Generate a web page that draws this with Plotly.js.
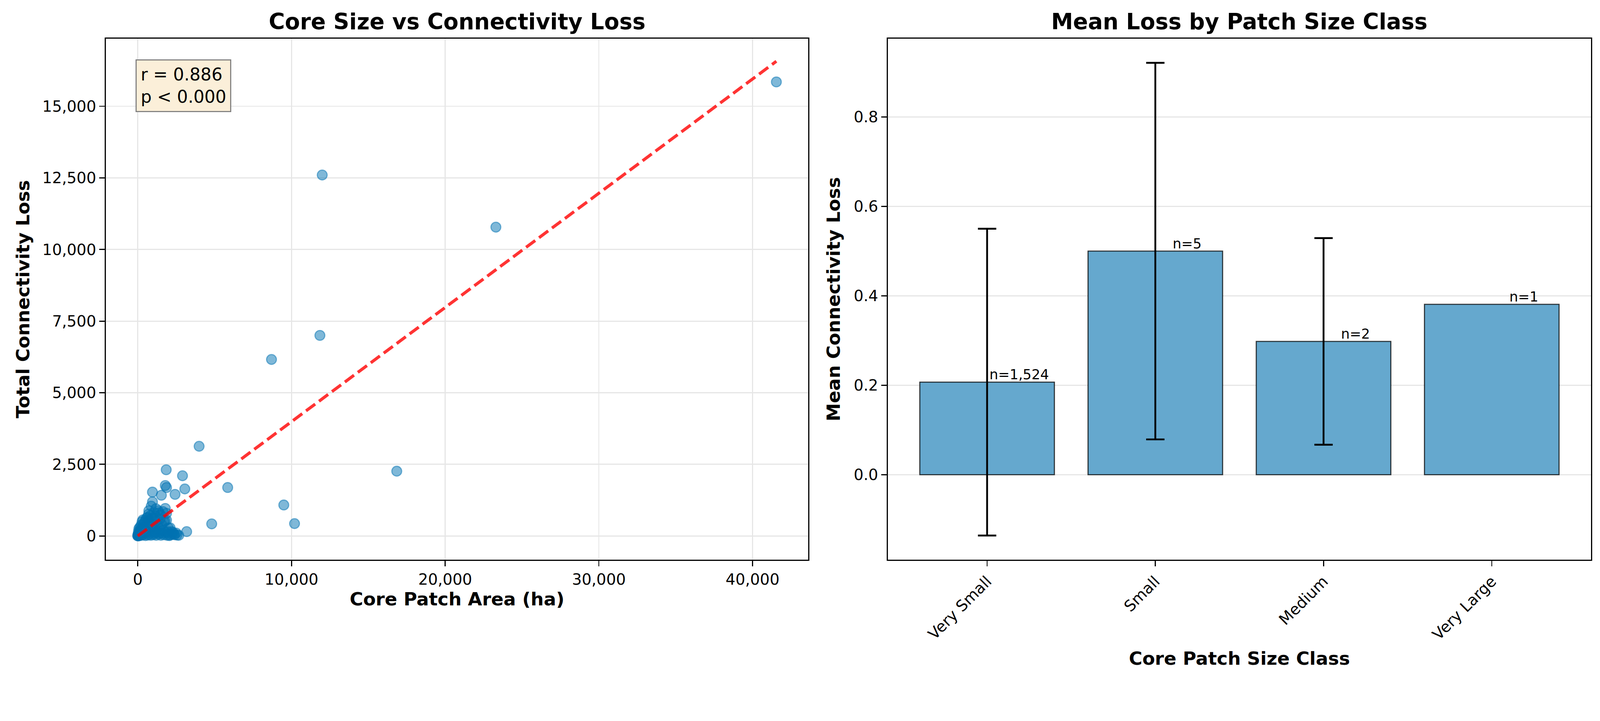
<!DOCTYPE html>
<html>
<head>
<meta charset="utf-8">
<script src="https://cdn.plot.ly/plotly-3.0.1.min.js"></script>
<style>html,body{margin:0;padding:0;background:#fff;overflow:hidden;}</style>
</head>
<body>
<div id="chart"></div>
<script>
// ---------- Data: scatter (core patch area vs total connectivity loss) ----------
const coreArea = [
  41550, 23300, 12000, 11850, 8700, 16850, 10200, 9500, 5850, 4810,
  3990, 3180, 3060, 2910, 1850, 1790, 1870, 2425, 1535, 955,
  955, 875, 1790, 1630, 1870, 1390, 1150, 1870, 1710, 1550,
  2107, 2664, 2346, 1313, 1988, 2227, 1767, 180, 500, 820,
  650, 720, 600, 420, 350, 300, 260, 540, 760, 880,
  1000, 1100, 1200, 1250, 1400, 1450, 1300, 700, 900, 1050,
  400, 200, 100, 50, 0, 20, 30, 80, 120, 150,
  250, 300, 350, 450, 500, 550, 600, 650, 750, 800,
  850, 950, 1000, 1150, 1200, 1350, 1500, 1600, 1700, 1800,
  1900, 2000, 2100, 2200, 2400, 2500, 560, 460, 380, 700,
  1050, 1180, 40, 60, 10, 5, 15, 70, 130, 220,
  280, 330, 90, 160, 240, 320, 480, 620, 680, 780,
  920, 1080, 1330, 1420, 1650, 1950, 2050, 2300, 2550, 1480
];
const connLoss = [
  15850, 10780, 12600, 7000, 6160, 2260, 430, 1080, 1690, 420,
  3130, 150, 1640, 2100, 2310, 1760, 1690, 1450, 1420, 1530,
  1190, 1040, 960, 850, 790, 810, 700, 550, 490, 400,
  280, 20, 60, 190, 280, 60, 530, 240, 540, 710,
  650, 880, 420, 460, 380, 300, 200, 300, 500, 600,
  420, 300, 520, 150, 100, 600, 350, 200, 150, 80,
  100, 50, 120, 30, 0, 10, 60, 5, 40, 180,
  20, 120, 40, 220, 10, 80, 150, 30, 60, 300,
  20, 250, 40, 120, 20, 60, 20, 90, 40, 130,
  20, 80, 30, 150, 40, 100, 620, 330, 250, 760,
  820, 950, 150, 80, 40, 5, 20, 250, 300, 380,
  500, 560, 10, 90, 130, 200, 150, 280, 500, 400,
  350, 600, 880, 250, 200, 150, 10, 120, 30, 740
];
// Fitted trend line (endpoints)
const trendX = [0, 41550];
const trendY = [0, 16570];
const statText = ["r = 0.886", "p &lt; 0.000"];

// ---------- Data: bar chart (mean loss by patch size class) ----------
const sizeClasses = ["Very Small", "Small", "Medium", "Very Large"];
const meanLoss   = [0.207, 0.500, 0.298, 0.381];
const stdLoss    = [0.343, 0.421, 0.231, null];
const classCount = ["n=1,524", "n=5", "n=2", "n=1"];

// ---------- Scale to the actual viewport ----------
const W0 = 4365, H0 = 1846;
const S = Math.min(window.innerWidth / W0, window.innerHeight / H0);
const p = v => v * S;
document.getElementById("chart").style.width = (W0 * S) + "px";
document.getElementById("chart").style.height = (H0 * S) + "px";

// ---------- Styling ----------
const FONT = "DejaVu Sans";
const gridCol = "#e6e6e6";
const barColor = "#65a8ce";
const barEdge = "rgba(0,0,0,0.75)";
const axBase = {
  showline: true, mirror: true, linecolor: "#000", linewidth: p(3),
  ticks: "outside", ticklen: p(15), tickwidth: p(3), tickcolor: "#000",
  tickfont: {family: FONT, size: p(42), color: "#000"},
  zeroline: false, automargin: false
};
const titleFont = {family: FONT, size: p(50), color: "#000", weight: "bold"};

// split bars into those with and without a std (n=1 has no error bar)
const withErr = sizeClasses.map((c, i) => i).filter(i => stdLoss[i] !== null);
const noErr = sizeClasses.map((c, i) => i).filter(i => stdLoss[i] === null);

const traces = [
  {
    type: "scatter", mode: "markers", x: coreArea, y: connLoss,
    xaxis: "x", yaxis: "y",
    marker: {size: p(27), color: "rgba(0,114,178,0.5)", line: {color: "rgba(0,114,178,0.5)", width: p(3)}},
    hoverinfo: "skip", showlegend: false
  },
  {
    type: "scatter", mode: "lines", x: trendX, y: trendY,
    xaxis: "x", yaxis: "y",
    line: {color: "rgba(255,0,0,0.8)", width: p(8.3), dash: p(31) + "px," + p(13) + "px"},
    hoverinfo: "skip", showlegend: false
  },
  {
    type: "bar", x: withErr.map(i => sizeClasses[i]), y: withErr.map(i => meanLoss[i]),
    xaxis: "x2", yaxis: "y2", width: 0.8,
    marker: {color: barColor, line: {color: barEdge, width: p(3)}},
    error_y: {type: "data", array: withErr.map(i => stdLoss[i]), visible: true, color: "#000", thickness: p(5), width: p(25)},
    hoverinfo: "skip", showlegend: false
  },
  {
    type: "bar", x: noErr.map(i => sizeClasses[i]), y: noErr.map(i => meanLoss[i]),
    xaxis: "x2", yaxis: "y2", width: 0.8,
    marker: {color: barColor, line: {color: barEdge, width: p(3)}},
    hoverinfo: "skip", showlegend: false
  }
];

const annotations = [
  {xref: "x domain", yref: "y domain", x: 0.5, y: 1, xanchor: "center", yanchor: "bottom", yshift: p(10),
   showarrow: false, text: "Core Size vs Connectivity Loss",
   font: {family: FONT, size: p(60), color: "#000", weight: "bold"}},
  {xref: "x2 domain", yref: "y2 domain", x: 0.5, y: 1, xanchor: "center", yanchor: "bottom", yshift: p(10),
   showarrow: false, text: "Mean Loss by Patch Size Class",
   font: {family: FONT, size: p(60), color: "#000", weight: "bold"}},
  {xref: "x domain", yref: "y domain", x: 0.0423, y: 0.9606, xanchor: "left", yanchor: "top",
   showarrow: false, align: "left", text: statText.join("<br>"),
   font: {family: FONT, size: p(47), color: "#000"},
   bgcolor: "#fbefd9", bordercolor: "#7f7f7f", borderwidth: p(3), borderpad: p(11)}
];
const labelOffset = 0.19;
sizeClasses.forEach((c, i) => {
  annotations.push({
    xref: "x2", yref: "y2", x: i + labelOffset, y: meanLoss[i], xanchor: "center", yanchor: "bottom",
    showarrow: false, text: classCount[i], borderpad: 0, yshift: -p(2),
    font: {family: FONT, size: p(37.5), color: "#000"}
  });
});

const layout = {
  width: W0 * S, height: H0 * S,
  margin: {l: p(289), r: p(25), t: p(106), b: p(319), pad: 0},
  paper_bgcolor: "#fff", plot_bgcolor: "#fff",
  font: {family: FONT, color: "#000"},
  showlegend: false, barmode: "overlay",
  xaxis: Object.assign({}, axBase, {
    domain: [0, 0.47297], anchor: "y", range: [-2077, 43627],
    tick0: 0, dtick: 10000, tickformat: ",d",
    showgrid: true, gridcolor: gridCol, gridwidth: p(3),
    title: {text: "Core Patch Area (ha)", font: titleFont, standoff: p(12)}
  }),
  yaxis: Object.assign({}, axBase, {
    domain: [0, 1], anchor: "x", range: [-830, 17360],
    tick0: 0, dtick: 2500, tickformat: ",d",
    showgrid: true, gridcolor: gridCol, gridwidth: p(3),
    title: {text: "Total Connectivity Loss", font: titleFont, standoff: p(20)}
  }),
  xaxis2: Object.assign({}, axBase, {
    domain: [0.52654, 1], anchor: "y2", range: [-0.59, 3.59],
    type: "category", categoryorder: "array", categoryarray: sizeClasses,
    tickangle: -45, showgrid: false,
    title: {text: "Core Patch Size Class", font: titleFont, standoff: p(25)}
  }),
  yaxis2: Object.assign({}, axBase, {
    domain: [0, 1], anchor: "x2", range: [-0.19, 0.975],
    tick0: 0, dtick: 0.2, tickformat: ".1f",
    showgrid: true, gridcolor: gridCol, gridwidth: p(3),
    title: {text: "Mean Connectivity Loss", font: titleFont, standoff: p(22)}
  }),
  annotations: annotations
};

Plotly.newPlot("chart", traces, layout, {staticPlot: true, displayModeBar: false});
</script>
</body>
</html>
